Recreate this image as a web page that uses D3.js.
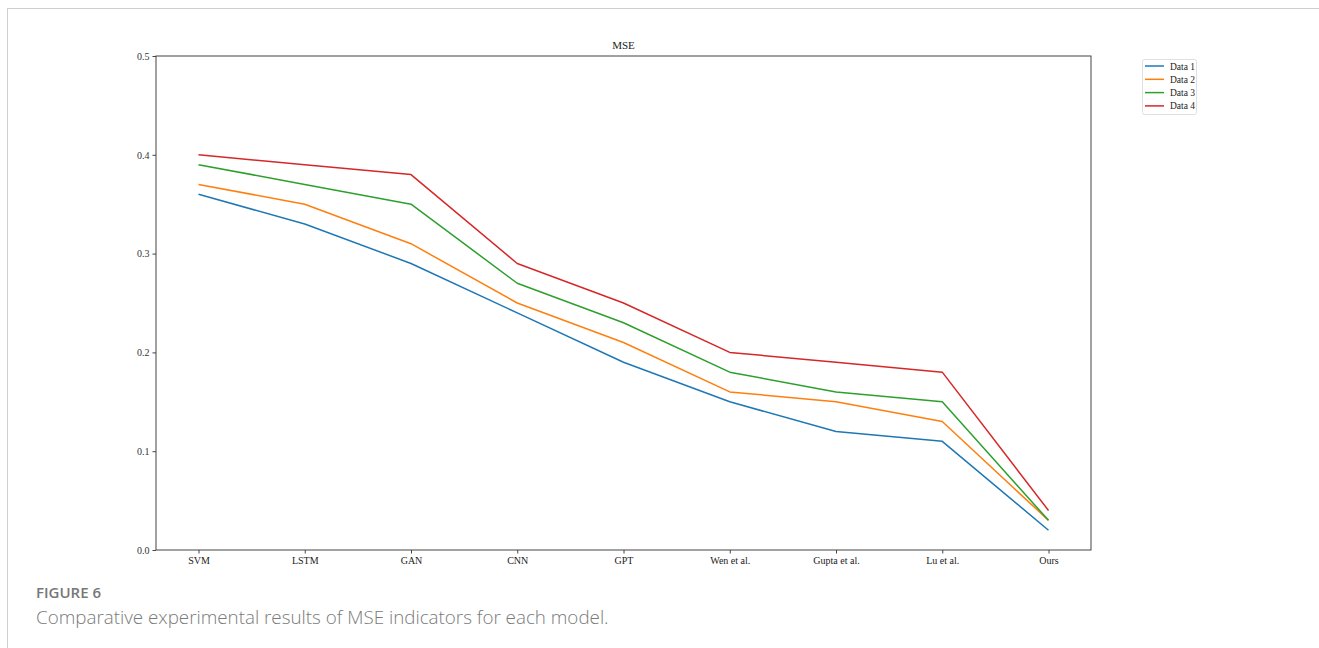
<!DOCTYPE html>
<html>
<head>
<meta charset="utf-8">
<script src="https://cdn.jsdelivr.net/npm/d3@7"></script>
<style>
  html, body { margin: 0; padding: 0; background: #fff; }
  svg { display: block; }
</style>
</head>
<body>
<svg id="chart" width="1319" height="648"></svg>
<script>
// Models compared along the x axis
const models = ["SVM", "LSTM", "GAN", "CNN", "GPT", "Wen et al.", "Gupta et al.", "Lu et al.", "Ours"];

// MSE per model for each dataset
const data1 = [0.36, 0.33, 0.29, 0.24, 0.19, 0.15, 0.12, 0.11, 0.02];
const data2 = [0.37, 0.35, 0.31, 0.25, 0.21, 0.16, 0.15, 0.13, 0.03];
const data3 = [0.39, 0.37, 0.35, 0.27, 0.23, 0.18, 0.16, 0.15, 0.03];
const data4 = [0.40, 0.39, 0.38, 0.29, 0.25, 0.20, 0.19, 0.18, 0.04];

const seriesNames = ["Data 1", "Data 2", "Data 3", "Data 4"];
const seriesColors = ["#1f77b4", "#ff7f0e", "#2ca02c", "#d62728"];
const yTicks = [0.0, 0.1, 0.2, 0.3, 0.4, 0.5];

const series = [data1, data2, data3, data4].map((values, i) => ({
  name: seriesNames[i], color: seriesColors[i], values
}));

const svg = d3.select("#chart");
const serif = "'Liberation Serif', 'Times New Roman', serif";

// Page frame lines
svg.append("line").attr("x1", 7).attr("y1", 8.5).attr("x2", 1319).attr("y2", 8.5)
  .attr("stroke", "#cfcfcf").attr("stroke-width", 1);
svg.append("line").attr("x1", 7.5).attr("y1", 8).attr("x2", 7.5).attr("y2", 648)
  .attr("stroke", "#cfcfcf").attr("stroke-width", 1);

const plot = { left: 156, top: 56, right: 1091, bottom: 550 };

// Point positions with matplotlib-style 5% padding on each side
const n = models.length;
const pad = (n - 1) * 0.05;
const x = d3.scaleLinear().domain([-pad, n - 1 + pad]).range([plot.left, plot.right]);
const y = d3.scaleLinear().domain([0, 0.5]).range([plot.bottom, plot.top]);

const g = svg.append("g");

// Lines
const line = d3.line().x((d, i) => x(i)).y(d => y(d));
g.selectAll("path.series").data(series).enter().append("path")
  .attr("class", "series")
  .attr("d", d => line(d.values))
  .attr("fill", "none")
  .attr("stroke", d => d.color)
  .attr("stroke-width", 1.5)
  .attr("stroke-linejoin", "round");

// Axes frame
g.append("rect")
  .attr("x", plot.left).attr("y", plot.top)
  .attr("width", plot.right - plot.left).attr("height", plot.bottom - plot.top)
  .attr("fill", "none").attr("stroke", "#444").attr("stroke-width", 1);

// Bottom axis
const xAxis = d3.axisBottom(x)
  .tickValues(d3.range(n))
  .tickFormat(i => models[i])
  .tickSize(3.5).tickPadding(3);
const xg = g.append("g").attr("transform", `translate(0,${plot.bottom})`).call(xAxis);
xg.select(".domain").remove();
xg.selectAll("line").attr("stroke", "#444");
xg.selectAll("text").attr("font-family", serif).attr("font-size", 10).attr("fill", "#222");

// Left axis
const yAxis = d3.axisLeft(y)
  .tickValues(yTicks)
  .tickFormat(d3.format(".1f"))
  .tickSize(3.5).tickPadding(3);
const yg = g.append("g").attr("transform", `translate(${plot.left},0)`).call(yAxis);
yg.select(".domain").remove();
yg.selectAll("line").attr("stroke", "#444");
yg.selectAll("text").attr("font-family", serif).attr("font-size", 10).attr("fill", "#333");

// Title
g.append("text")
  .attr("x", (plot.left + plot.right) / 2).attr("y", 49)
  .attr("text-anchor", "middle")
  .attr("font-family", serif).attr("font-size", 11).attr("fill", "#222")
  .text("MSE");

// Legend
const lg = svg.append("g").attr("transform", "translate(1142,59)");
lg.append("rect").attr("x", 0.5).attr("y", 0.5).attr("width", 54).attr("height", 55)
  .attr("rx", 2).attr("fill", "#fff").attr("stroke", "#e0e0e0");
const items = lg.selectAll("g.item").data(series).enter().append("g")
  .attr("class", "item")
  .attr("transform", (d, i) => `translate(0,${7 + i * 13.3})`);
items.append("line").attr("x1", 3).attr("x2", 22).attr("y1", 0).attr("y2", 0)
  .attr("stroke", d => d.color).attr("stroke-width", 1.5);
items.append("text").attr("x", 28).attr("y", 3.5)
  .attr("font-family", serif).attr("font-size", 9.5).attr("fill", "#222")
  .text(d => d.name);

// Caption
svg.append("text").attr("x", 36).attr("y", 598)
  .attr("font-family", "'Open Sans', Lato, sans-serif").attr("font-size", 15)
  .attr("font-weight", 600).attr("fill", "#777")
  .text("FIGURE 6");
svg.append("text").attr("x", 36).attr("y", 624)
  .attr("font-family", "'Open Sans', Lato, sans-serif").attr("font-size", 18.8)
  .attr("font-weight", 300).attr("fill", "#7a7a7a")
  .text("Comparative experimental results of MSE indicators for each model.");
</script>
</body>
</html>
